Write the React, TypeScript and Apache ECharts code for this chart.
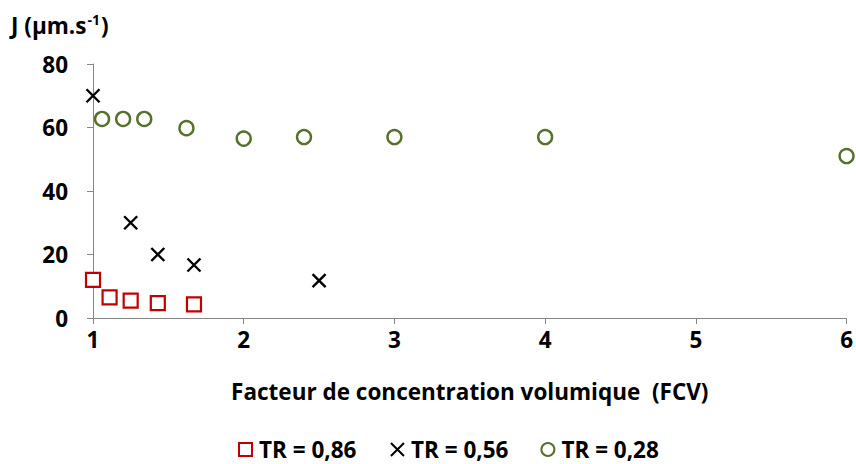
import React, { useEffect, useRef } from "react";
import * as echarts from "echarts";

const seriesNames = ["TR = 0,86", "TR = 0,56", "TR = 0,28"];
const tr086X = [1, 1.11, 1.25, 1.43, 1.67];
const tr086Y = [12, 6.5, 5.5, 4.7, 4.3];
const tr056X = [1, 1.25, 1.43, 1.67, 2.5];
const tr056Y = [70, 30, 20, 16.7, 11.8];
const tr028X = [1.06, 1.2, 1.34, 1.62, 2, 2.4, 3, 4, 6];
const tr028Y = [62.7, 62.7, 62.7, 59.8, 56.5, 57, 57, 57, 51];

const FONT = "'Open Sans', Lato, sans-serif";
const FS = 22.5;
const crossPath = "path://M0,0L10,10M10,0L0,10";

function pairs(xs: number[], ys: number[]) {
  return xs.map((x, i) => [x, ys[i]]);
}

export default function App() {
  const ref = useRef<HTMLDivElement>(null);
  useEffect(() => {
    if (!ref.current) return;
    const chart = echarts.init(ref.current, undefined, { renderer: "svg" });
    chart.setOption({
      animation: false,
      backgroundColor: "#ffffff",
      title: {
        text: "{a|J (µm.s}{sup|-1}{a|)}",
        left: 6,
        top: 7,
        textStyle: {
          rich: {
            a: { fontFamily: FONT, fontWeight: "bold", fontSize: FS, color: "#000" },
            sup: { fontFamily: FONT, fontWeight: "bold", fontSize: 14, color: "#000", verticalAlign: "top", padding: [0, 1, 12, 1] },
          },
        },
      },
      grid: { left: 93, right: 7, top: 64, bottom: 146, containLabel: false },
      legend: {
        top: 438,
        left: 238,
        itemGap: 32,
        itemWidth: 13,
        itemHeight: 13,
        padding: 0,
        textStyle: { fontFamily: FONT, fontWeight: "bold", fontSize: FS, lineHeight: 23, color: "#000", padding: [0, 0, 0, 2] },
        data: seriesNames,
      },
      xAxis: {
        type: "value",
        min: 1,
        max: 6,
        interval: 1,
        name: "Facteur de concentration volumique  (FCV)",
        nameLocation: "middle",
        nameGap: 62,
        nameTextStyle: { fontFamily: FONT, fontWeight: "bold", fontSize: FS, color: "#000" },
        axisLine: { lineStyle: { color: "#868686", width: 1 } },
        axisTick: { show: true, inside: false, length: 6, lineStyle: { color: "#868686" } },
        axisLabel: { fontFamily: FONT, fontWeight: "bold", fontSize: FS, color: "#000", margin: 10 },
        splitLine: { show: false },
      },
      yAxis: {
        type: "value",
        min: 0,
        max: 80,
        interval: 20,
        axisLine: { show: true, lineStyle: { color: "#868686", width: 1 } },
        axisTick: { show: true, inside: false, length: 6, lineStyle: { color: "#868686" } },
        axisLabel: { fontFamily: FONT, fontWeight: "bold", fontSize: FS, color: "#000", margin: 25 },
        splitLine: { show: false },
      },
      series: [
        {
          name: seriesNames[0],
          type: "scatter",
          symbol: "rect",
          symbolSize: 14,
          itemStyle: { color: "#ffffff", borderColor: "#C00000", borderWidth: 2.2, opacity: 1 },
          data: pairs(tr086X, tr086Y),
        },
        {
          name: seriesNames[1],
          type: "scatter",
          symbol: crossPath,
          symbolSize: 13,
          itemStyle: { color: "none", borderColor: "#000000", borderWidth: 2.4, opacity: 1 },
          data: pairs(tr056X, tr056Y),
        },
        {
          name: seriesNames[2],
          type: "scatter",
          symbol: "circle",
          symbolSize: 14,
          itemStyle: { color: "#ffffff", borderColor: "#56712B", borderWidth: 2.4, opacity: 1 },
          data: pairs(tr028X, tr028Y),
        },
      ],
    });
    return () => chart.dispose();
  }, []);
  return <div ref={ref} style={{ width: 856, height: 464, position: "absolute", left: 0, top: 0 }} />;
}
